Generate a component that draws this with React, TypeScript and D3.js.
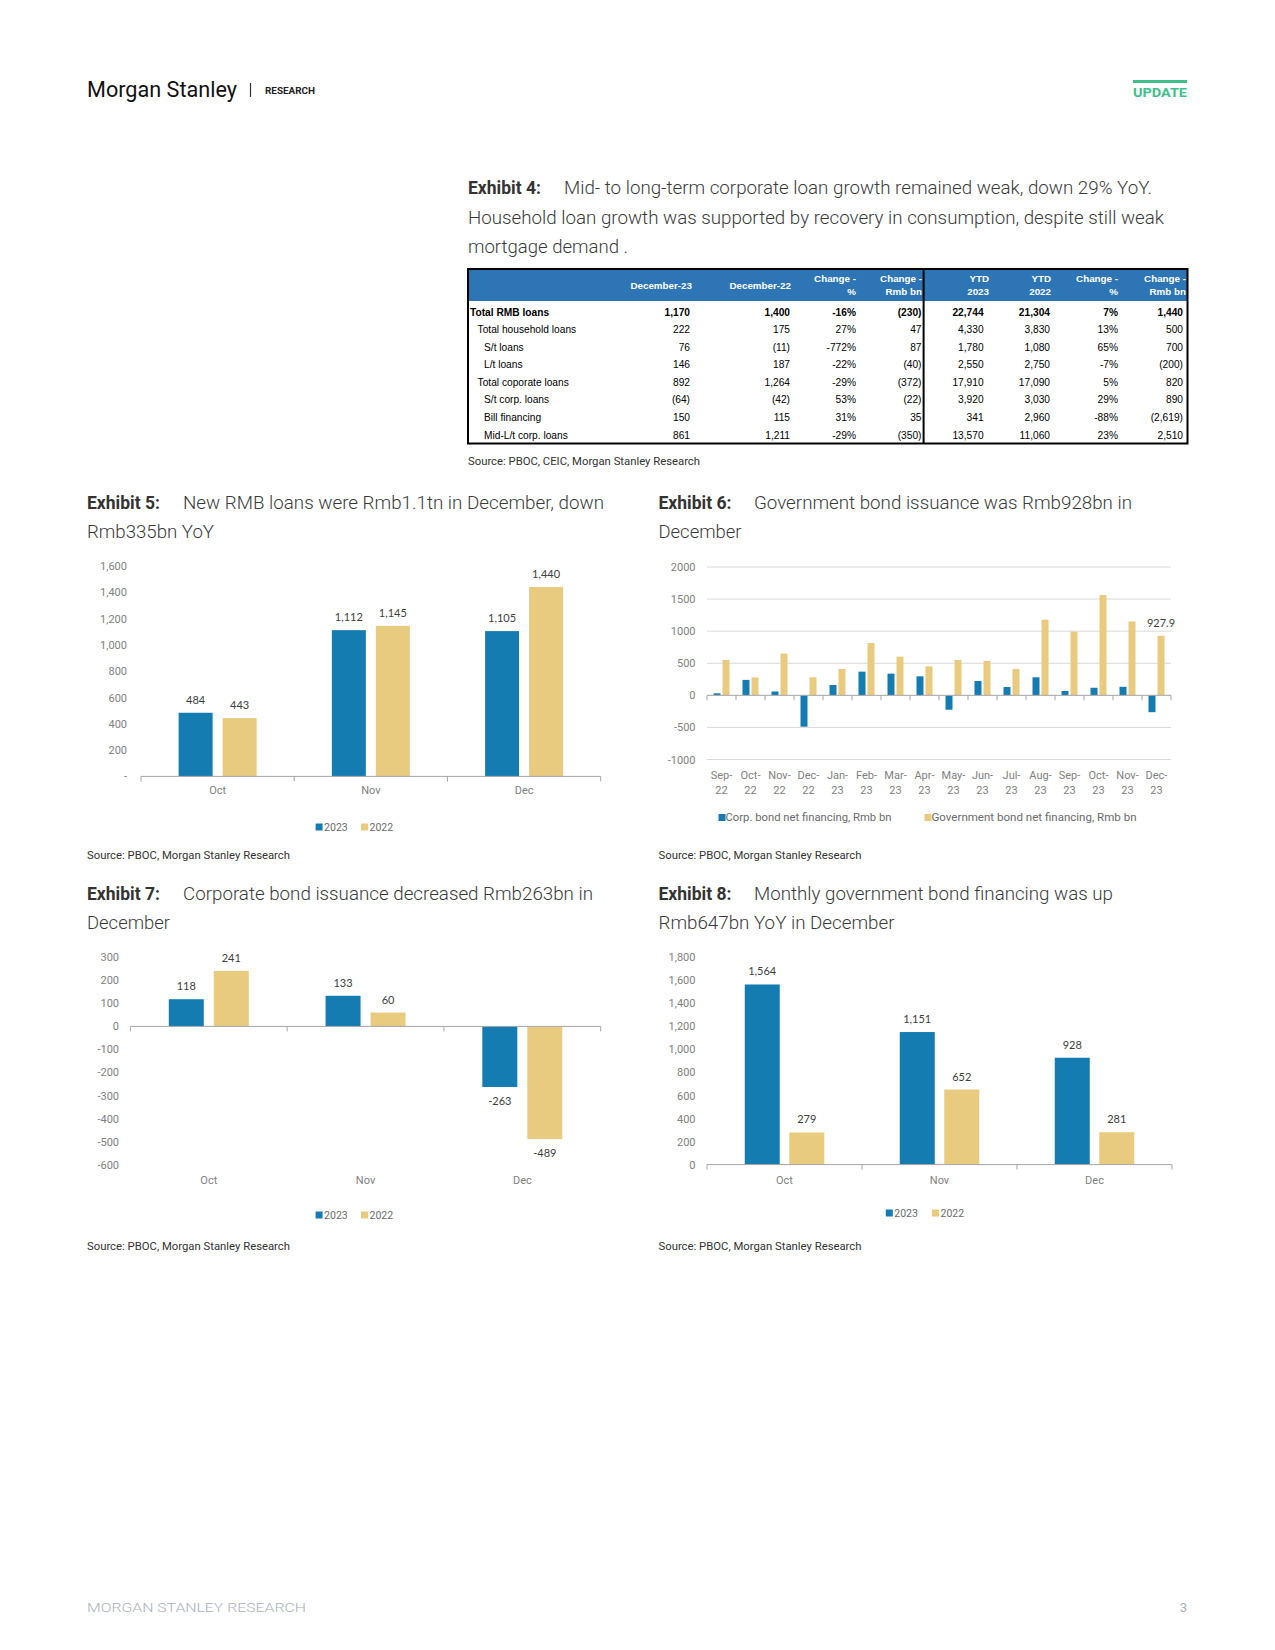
import React from "react";
import * as d3 from "d3";

const BLUE = "#157cb1";
const GOLD = "#e9cb80";
const AXIS = "#a6a6a6";
const GRID = "#d9d9d9";
const TICKTXT = "#7f7f7f";
const LBL = "#404040";
const FONT = "Roboto, 'Noto Sans', sans-serif";
const NUMFONT = "Lato, 'Open Sans', sans-serif";
const TFONT = "'Liberation Sans Narrow', 'Arial Narrow', 'Liberation Sans', sans-serif";

// ---------- Data ----------
const seriesNames = ["2023", "2022"];
const months3 = ["Oct", "Nov", "Dec"];
const newLoans2023 = [484, 1112, 1105];
const newLoans2022 = [443, 1145, 1440];
const corpBond2023 = [118, 133, -263];
const corpBond2022 = [241, 60, -489];
const govBond2023 = [1564, 1151, 928];
const govBond2022 = [279, 652, 281];

const ex6Months = ["Sep-22", "Oct-22", "Nov-22", "Dec-22", "Jan-23", "Feb-23", "Mar-23", "Apr-23", "May-23", "Jun-23", "Jul-23", "Aug-23", "Sep-23", "Oct-23", "Nov-23", "Dec-23"];
const ex6Corp = [31, 241, 60, -489, 161, 369, 338, 296, -224, 224, 130, 281, 68, 118, 133, -263];
const ex6Gov = [551, 279, 652, 281, 411, 816, 603, 452, 551, 536, 411, 1180, 993, 1564, 1151, 927.9];
const ex6SeriesNames = ["Corp. bond net financing, Rmb bn", "Government bond net financing, Rmb bn"];

const ex5Ticks = [0, 200, 400, 600, 800, 1000, 1200, 1400, 1600];
const ex6Ticks = [-1000, -500, 0, 500, 1000, 1500, 2000];
const ex7Ticks = [-600, -500, -400, -300, -200, -100, 0, 100, 200, 300];
const ex8Ticks = [0, 200, 400, 600, 800, 1000, 1200, 1400, 1600, 1800];

const tableHeaders = [["December-23"], ["December-22"], ["Change -", "%"], ["Change -", "Rmb bn"], ["YTD", "2023"], ["YTD", "2022"], ["Change -", "%"], ["Change -", "Rmb bn"]];
const tableRowLabels = ["Total RMB loans", "Total household loans", "S/t loans", "L/t loans", "Total coporate loans", "S/t corp. loans", "Bill financing", "Mid-L/t corp. loans"];
const tableRowLevels = [0, 1, 2, 2, 1, 2, 2, 2];
const tableValues = [
  ["1,170", "1,400", "-16%", "(230)", "22,744", "21,304", "7%", "1,440"],
  ["222", "175", "27%", "47", "4,330", "3,830", "13%", "500"],
  ["76", "(11)", "-772%", "87", "1,780", "1,080", "65%", "700"],
  ["146", "187", "-22%", "(40)", "2,550", "2,750", "-7%", "(200)"],
  ["892", "1,264", "-29%", "(372)", "17,910", "17,090", "5%", "820"],
  ["(64)", "(42)", "53%", "(22)", "3,920", "3,030", "29%", "890"],
  ["150", "115", "31%", "35", "341", "2,960", "-88%", "(2,619)"],
  ["861", "1,211", "-29%", "(350)", "13,570", "11,060", "23%", "2,510"],
];

const comma = (v: number) => d3.format(",")(v).replace("\u2212", "-");

// ---------- Helpers ----------
function Title({ x, y, num, line1, line1Len, line2, line2Len, textX }: any) {
  return (
    <g>
      <text x={x} y={y} fontFamily={FONT} fontWeight={700} fontSize={17.5} fill="#333">{num}</text>
      <text x={textX} y={y} fontFamily={FONT} fontWeight={300} fontSize={17.5} fill="#3a3a3a" textLength={line1Len} lengthAdjust="spacingAndGlyphs">{line1}</text>
      <text x={x} y={y + 29} fontFamily={FONT} fontWeight={300} fontSize={17.5} fill="#3a3a3a" textLength={line2Len} lengthAdjust="spacingAndGlyphs">{line2}</text>
    </g>
  );
}

function Legend2({ x, y, gap2 }: any) {
  return (
    <g fontFamily={FONT} fontSize={10.5} fill="#6b6b6b">
      <rect x={x} y={y - 3.5} width={7} height={7} fill={BLUE} />
      <text x={x + 8.5} y={y + 3.7}>{seriesNames[0]}</text>
      <rect x={x + gap2} y={y - 3.5} width={7} height={7} fill={GOLD} />
      <text x={x + gap2 + 8.5} y={y + 3.7}>{seriesNames[1]}</text>
    </g>
  );
}

function Source({ x, y, text, len }: any) {
  return <text x={x} y={y} fontFamily={FONT} fontSize={10.5} fill="#333" textLength={len} lengthAdjust="spacingAndGlyphs">{text}</text>;
}

function GroupedBars({ left, right, yDomain, yRange, ticks, fmt, labelX, catLabelY, barW, gap, s1, s2 }: any) {
  const x0 = d3.scaleBand().domain(months3).range([left, right]);
  const total = 2 * barW + gap;
  const x1 = d3.scaleBand().domain(seriesNames).range([-total / 2, total / 2]).paddingInner(gap / (barW + gap));
  const y = d3.scaleLinear().domain(yDomain).range(yRange);
  const bounds = months3.map((m) => x0(m) as number).concat([right]);
  const series = [s1, s2];
  const colors = [BLUE, GOLD];
  return (
    <g>
      {ticks.map((t: number) => (
        <text key={t} x={labelX} y={y(t) + 4} textAnchor="end" fontFamily={FONT} fontSize={11} fill={TICKTXT}>{fmt(t)}</text>
      ))}
      {series.map((vals: number[], si: number) =>
        vals.map((v, i) => {
          const cx = (x0(months3[i]) as number) + x0.bandwidth() / 2 + (x1(seriesNames[si]) as number);
          const y0 = y(0);
          const yv = y(v);
          return (
            <g key={si + "-" + i}>
              <rect x={cx} y={Math.min(y0, yv)} width={x1.bandwidth()} height={Math.abs(yv - y0)} fill={colors[si]} />
              <text x={cx + x1.bandwidth() / 2} y={v >= 0 ? yv - 9 : yv + 18} textAnchor="middle" fontFamily={NUMFONT} fontSize={11} fill={LBL}>{comma(v)}</text>
            </g>
          );
        })
      )}
      <line x1={left} x2={right} y1={y(0)} y2={y(0)} stroke={AXIS} strokeWidth={1} />
      {bounds.map((b: number, i: number) => (
        <line key={i} x1={b} x2={b} y1={y(0)} y2={y(0) + 5} stroke={AXIS} />
      ))}
      {months3.map((m) => (
        <text key={m} x={(x0(m) as number) + x0.bandwidth() / 2} y={catLabelY} textAnchor="middle" fontFamily={FONT} fontSize={11} fill={TICKTXT}>{m}</text>
      ))}
    </g>
  );
}

function Exhibit6() {
  const left = 707, right = 1171;
  const x0 = d3.scaleBand().domain(ex6Months).range([left, right]);
  const barW = 7, gap = 2;
  const total = 2 * barW + gap;
  const x1 = d3.scaleBand().domain(["corp", "gov"]).range([-total / 2, total / 2]).paddingInner(gap / (barW + gap));
  const y = d3.scaleLinear().domain([-1000, 2000]).range([759.5, 567]);
  const bounds = ex6Months.map((m) => x0(m) as number).concat([right]);
  const c = (m: string) => (x0(m) as number) + x0.bandwidth() / 2;
  const lastIdx = ex6Months.length - 1;
  return (
    <g>
      {ex6Ticks.map((t) => (
        <g key={t}>
          {t !== 0 && <line x1={left} x2={right} y1={y(t)} y2={y(t)} stroke={GRID} />}
          <text x={695.5} y={y(t) + 4} textAnchor="end" fontFamily={FONT} fontSize={11} fill={TICKTXT}>{t}</text>
        </g>
      ))}
      {ex6Months.map((m, i) => {
        const yc = y(ex6Corp[i]), yg = y(ex6Gov[i]), y0 = y(0);
        return (
          <g key={m}>
            <rect x={c(m) + (x1("corp") as number)} y={Math.min(yc, y0)} width={x1.bandwidth()} height={Math.abs(yc - y0)} fill={BLUE} />
            <rect x={c(m) + (x1("gov") as number)} y={Math.min(yg, y0)} width={x1.bandwidth()} height={Math.abs(yg - y0)} fill={GOLD} />
          </g>
        );
      })}
      <text x={c(ex6Months[lastIdx]) + (x1("gov") as number) + x1.bandwidth() / 2} y={y(ex6Gov[lastIdx]) - 9} textAnchor="middle" fontFamily={NUMFONT} fontSize={11} fill={LBL}>{ex6Gov[lastIdx]}</text>
      <line x1={left} x2={right} y1={y(0)} y2={y(0)} stroke={AXIS} />
      {bounds.map((b, i) => (
        <line key={i} x1={b} x2={b} y1={y(0)} y2={y(0) + 5} stroke={AXIS} />
      ))}
      {ex6Months.map((m) => {
        const [mo, yr] = m.split("-");
        return (
          <text key={m} textAnchor="middle" fontFamily={FONT} fontSize={11} fill={TICKTXT}>
            <tspan x={c(m)} y={779}>{mo + "-"}</tspan>
            <tspan x={c(m)} y={794}>{yr}</tspan>
          </text>
        );
      })}
      <g fontFamily={FONT} fontSize={10.5} fill="#6b6b6b">
        <rect x={718.5} y={814} width={7} height={7} fill={BLUE} />
        <text x={725.5} y={821.2} textLength={166} lengthAdjust="spacingAndGlyphs">{ex6SeriesNames[0]}</text>
        <rect x={924.5} y={814} width={7} height={7} fill={GOLD} />
        <text x={931.5} y={821.2} textLength={205} lengthAdjust="spacingAndGlyphs">{ex6SeriesNames[1]}</text>
      </g>
    </g>
  );
}

function Table() {
  const L = 468, R = 1187.5, T = 269, B = 443.5, HB = 301, DIV = 923.6;
  const colRight = [690, 790, 856, 921.5, 983.6, 1050, 1118, 1183];
  const headRight = [692, 791, 856, 922, 989, 1051, 1118, 1186];
  const rowY = d3.scaleLinear().domain([0, 7]).range([312, 435]);
  const indent = [470, 477.6, 484];
  return (
    <g fontFamily={TFONT} fontSize={10.2}>
      <rect x={L} y={T} width={R - L} height={HB - T} fill="#2e75b6" />
      {tableHeaders.map((h, i) => (
        <text key={i} textAnchor="end" fill="#fff" fontWeight={700} fontSize={9.8}>
          {h.length === 1 ? (
            <tspan x={headRight[i]} y={288.5}>{h[0]}</tspan>
          ) : (
            <>
              <tspan x={headRight[i]} y={282}>{h[0]}</tspan>
              <tspan x={headRight[i]} y={294.5}>{h[1]}</tspan>
            </>
          )}
        </text>
      ))}
      {tableRowLabels.map((lab, r) => (
        <g key={lab} fontWeight={r === 0 ? 700 : 400} fill="#000">
          <text x={indent[tableRowLevels[r]]} y={rowY(r) + 3.6}>{lab}</text>
          {tableValues[r].map((v, ci) => (
            <text key={ci} x={colRight[ci]} y={rowY(r) + 3.6} textAnchor="end">{v}</text>
          ))}
        </g>
      ))}
      <rect x={L} y={T} width={R - L} height={B - T} fill="none" stroke="#000" strokeWidth={2} />
      <line x1={DIV} x2={DIV} y1={T} y2={B} stroke="#000" strokeWidth={2} />
    </g>
  );
}

export default function App() {
  const fmtDash = (v: number) => (v === 0 ? "-" : comma(v));
  const fmtComma = (v: number) => comma(v);
  const fmtPlain = (v: number) => String(v);
  return (
    <div style={{ position: "absolute", left: 0, top: 0 }}>
      <svg width={1275} height={1650} viewBox="0 0 1275 1650" style={{ display: "block", background: "#fff" }}>
        {/* Header */}
        <text x={87} y={97} fontFamily={FONT} fontSize={22.5} fill="#111" textLength={150} lengthAdjust="spacingAndGlyphs">Morgan Stanley</text>
        <line x1={250.5} x2={250.5} y1={83} y2={97} stroke="#333" strokeWidth={1.2} />
        <text x={265} y={93.5} fontFamily={FONT} fontWeight={700} fontSize={8.5} fill="#222" textLength={50} lengthAdjust="spacingAndGlyphs">RESEARCH</text>
        <rect x={1133} y={80} width={54} height={3} fill="#3fbf8c" />
        <text x={1133} y={97} fontFamily={FONT} fontWeight={700} fontSize={13.5} fill="#3fbf8c" textLength={54} lengthAdjust="spacingAndGlyphs">UPDATE</text>

        {/* Exhibit 4 */}
        <text x={468} y={194} fontFamily={FONT} fontWeight={700} fontSize={17.5} fill="#333">Exhibit 4:</text>
        <text x={564} y={194} fontFamily={FONT} fontWeight={300} fontSize={18} fill="#3a3a3a" textLength={588} lengthAdjust="spacingAndGlyphs">Mid- to long-term corporate loan growth remained weak, down 29% YoY.</text>
        <text x={468} y={223.5} fontFamily={FONT} fontWeight={300} fontSize={18} fill="#3a3a3a" textLength={696} lengthAdjust="spacingAndGlyphs">Household loan growth was supported by recovery in consumption, despite still weak</text>
        <text x={468} y={253} fontFamily={FONT} fontWeight={300} fontSize={18} fill="#3a3a3a" textLength={160} lengthAdjust="spacingAndGlyphs">mortgage demand .</text>
        <Table />
        <Source x={468} y={464.5} len={232} text="Source: PBOC, CEIC, Morgan Stanley Research" />

        {/* Exhibit 5 */}
        <Title x={87} y={509} textX={183} num="Exhibit 5:" line1="New RMB loans were Rmb1.1tn in December, down" line1Len={421} line2="Rmb335bn YoY" line2Len={127} />
        <GroupedBars left={141} right={600.7} yDomain={[0, 1600]} yRange={[776.4, 566]} ticks={ex5Ticks} fmt={fmtDash} labelX={127} catLabelY={794} barW={34} gap={10} s1={newLoans2023} s2={newLoans2022} />
        <Legend2 x={315.6} y={827} gap2={45.4} />
        <Source x={87} y={858.5} len={203} text="Source: PBOC, Morgan Stanley Research" />

        {/* Exhibit 6 */}
        <Title x={658.5} y={509} textX={754} num="Exhibit 6:" line1="Government bond issuance was Rmb928bn in" line1Len={378} line2="December" line2Len={83} />
        <Exhibit6 />
        <Source x={658.5} y={858.5} len={203} text="Source: PBOC, Morgan Stanley Research" />

        {/* Exhibit 7 */}
        <Title x={87} y={899.5} textX={183} num="Exhibit 7:" line1="Corporate bond issuance decreased Rmb263bn in" line1Len={410} line2="December" line2Len={83} />
        <GroupedBars left={130.4} right={600.7} yDomain={[-600, 300]} yRange={[1164.6, 957.3]} ticks={ex7Ticks} fmt={fmtPlain} labelX={119} catLabelY={1184} barW={35} gap={10} s1={corpBond2023} s2={corpBond2022} />
        <Legend2 x={315.6} y={1215} gap2={45.4} />
        <Source x={87} y={1250} len={203} text="Source: PBOC, Morgan Stanley Research" />

        {/* Exhibit 8 */}
        <Title x={658.5} y={899.5} textX={754} num="Exhibit 8:" line1="Monthly government bond financing was up" line1Len={359} line2="Rmb647bn YoY in December" line2Len={236} />
        <GroupedBars left={707} right={1172} yDomain={[0, 1800]} yRange={[1164.6, 957.3]} ticks={ex8Ticks} fmt={fmtComma} labelX={695.5} catLabelY={1184} barW={35} gap={9.5} s1={govBond2023} s2={govBond2022} />
        <Legend2 x={885.8} y={1213} gap2={46.2} />
        <Source x={658.5} y={1250} len={203} text="Source: PBOC, Morgan Stanley Research" />

        {/* Footer */}
        <text x={87} y={1611.5} fontFamily={FONT} fontWeight={300} fontSize={13} fill="#a9b2b9" textLength={219} lengthAdjust="spacingAndGlyphs">MORGAN STANLEY RESEARCH</text>
        <text x={1187} y={1611.5} textAnchor="end" fontFamily={FONT} fontSize={13} fill="#a9b2b9">3</text>
      </svg>
    </div>
  );
}
